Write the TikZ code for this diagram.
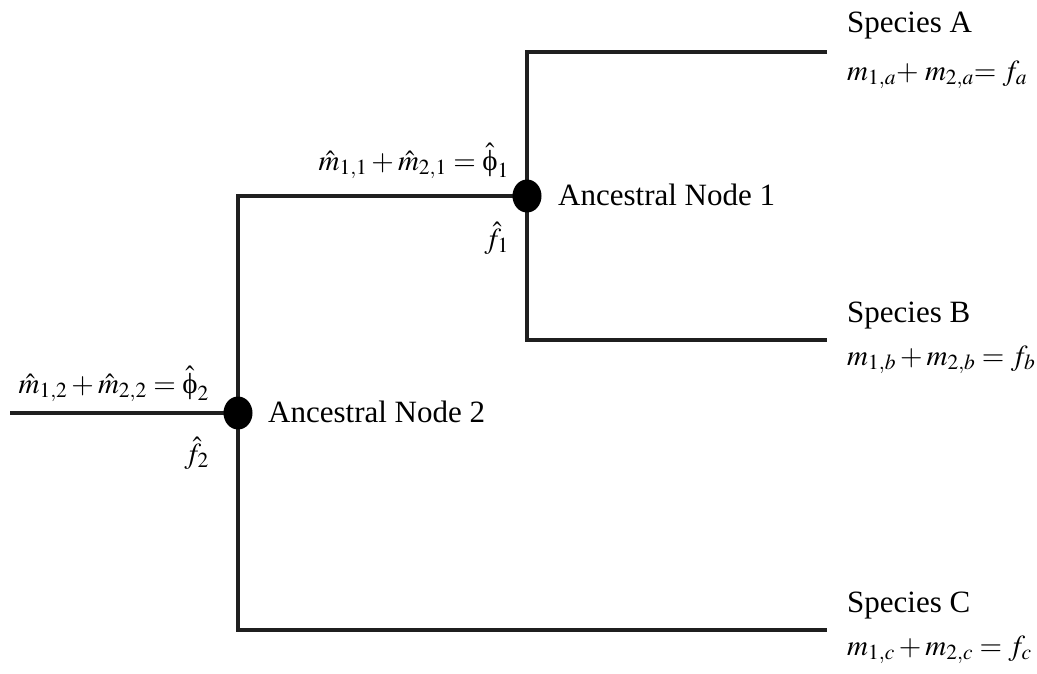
\documentclass[tikz,border=0pt]{standalone}
\usepackage{mathptmx}
\usepackage{fontspec}
\setmainfont{Liberation Serif}
\usetikzlibrary{shapes.geometric}
\newcommand{\uphi}{\mbox{ϕ}}
\tikzset{
  branch/.style={line width=4.5pt, line join=miter, line cap=butt, color=black!88},
  dot/.style={ellipse, fill=black, inner sep=0pt, minimum width=29pt, minimum height=33pt},
  lbl/.style={inner sep=0pt, font=\fontsize{29}{34}\selectfont},
  txt/.style={inner sep=0pt, font=\fontsize{31}{36}\selectfont},
}
\begin{document}
\begin{tikzpicture}[x=1pt, y=-1pt]
\useasboundingbox (0,0) rectangle (1037,673);
\coordinate (root) at (10,413);
\coordinate (p2) at (238,413);
\coordinate (p1) at (527,196);
\coordinate (ea) at (827,52);
\coordinate (eb) at (827,340);
\coordinate (ec) at (827,630);
\draw[branch] (root) -- (p2);
\draw[branch] (ea) -| (p1) |- (eb);
\draw[branch] (p1) -| (p2) |- (ec);
\node[dot] (n1) at (p1) {};
\node[dot] (n2) at (p2) {};
% labels
\node[txt, anchor=base west] (t1) at (558,205) {Ancestral Node 1};
\node[txt, anchor=base west] (t2) at (268,422) {Ancestral Node 2};
\node[lbl, anchor=base east] (q2) at (209,393) {$\hat{m}_{1,2}+\hat{m}_{2,2}=\hat{\uphi}_2$};
\node[lbl, anchor=base east] (g2) at (209,463) {$\hat{f}_2$};
\node[lbl, anchor=base east] (q1) at (509,170) {$\hat{m}_{1,1}+\hat{m}_{2,1}=\hat{\uphi}_1$};
\node[lbl, anchor=base east] (g1) at (509,248) {$\hat{f}_1$};
\node[txt, anchor=base west] (sa) at (847,32) {Species A};
\node[lbl, anchor=base west] (fa) at (847,80) {$m_{1,a}{+}\;m_{2,a}{=}\;f_a$};
\node[txt, anchor=base west] (sb) at (847,322) {Species B};
\node[lbl, anchor=base west] (fb) at (847,365) {$m_{1,b}+m_{2,b}=f_b$};
\node[txt, anchor=base west] (sc) at (847,612) {Species C};
\node[lbl, anchor=base west] (fc) at (847,655) {$m_{1,c}+m_{2,c}=f_c$};
\end{tikzpicture}
\end{document}
